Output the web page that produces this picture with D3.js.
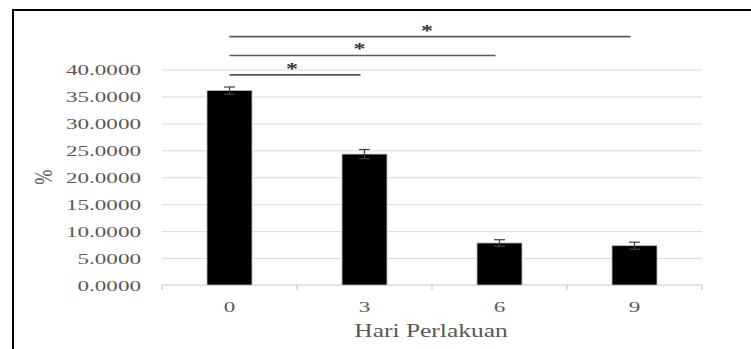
<!DOCTYPE html>
<html>
<head>
<meta charset="utf-8">
<script src="https://cdn.jsdelivr.net/npm/d3@7/dist/d3.min.js"></script>
<style>
  html, body { margin: 0; padding: 0; background: #fff; }
  svg { display: block; }
  text { font-family: "Liberation Serif", "Times New Roman", serif; }
</style>
</head>
<body>
<svg id="chart" width="751" height="349"></svg>
<script>
// Treatment days and mean percentage with error
const days = ["0", "3", "6", "9"];
const percent = [36.1, 24.3, 7.8, 7.3];
const errors = [0.65, 0.85, 0.6, 0.65];
const yTicks = [0, 5, 10, 15, 20, 25, 30, 35, 40];

// Significance brackets: from day, to day, height in % units
const sigFrom = ["0", "0", "0"];
const sigTo = ["3", "6", "9"];
const sigLevel = [39.0, 42.6, 46.1];
const sigMark = ["*", "*", "*"];

const svg = d3.select("#chart");
const W = 751, H = 349;
const plot = { left: 162, right: 702, top: 69.5, bottom: 285 };
const stretch = 1.5;       // horizontal stretch of tick lettering
const titleStretch = 1.4;  // horizontal stretch of axis titles

// Outer frame
svg.append("rect")
  .attr("x", 13).attr("y", 10)
  .attr("width", W + 20).attr("height", H + 20)
  .attr("fill", "none").attr("stroke", "#000").attr("stroke-width", 2);

const x = d3.scaleBand().domain(days).range([plot.left, plot.right]).padding(0);
const y = d3.scaleLinear().domain([0, 40]).range([plot.bottom, plot.top]);

// Y axis with gridlines
const yAxis = d3.axisLeft(y)
  .tickValues(yTicks)
  .tickFormat(d3.format(".4f"))
  .tickSize(-(plot.right - plot.left))
  .tickPadding(0);

const gy = svg.append("g")
  .attr("transform", `translate(${plot.left},0)`)
  .call(yAxis);
gy.select(".domain").remove();
gy.selectAll(".tick line")
  .attr("stroke", d => d === 0 ? "none" : "#d9d9d9")
  .attr("stroke-width", 1);
gy.selectAll(".tick text")
  .attr("x", null).attr("dy", null)
  .attr("fill", "#595959")
  .attr("font-size", 15.4)
  .attr("text-anchor", "end")
  .attr("dominant-baseline", "central")
  .attr("transform", `translate(-21,0) scale(${stretch},1)`);

// X axis: baseline with ticks at category boundaries
const gx = svg.append("g").attr("transform", `translate(0,${plot.bottom})`);
gx.append("line")
  .attr("x1", plot.left).attr("x2", plot.right)
  .attr("stroke", "#c8c8c8").attr("stroke-width", 1.2);
const bounds = days.map(d => x(d)).concat([x(days[days.length - 1]) + x.bandwidth()]);
gx.selectAll("line.tk").data(bounds).join("line")
  .attr("class", "tk")
  .attr("x1", d => d).attr("x2", d => d)
  .attr("y1", 0).attr("y2", 5)
  .attr("stroke", "#c8c8c8").attr("stroke-width", 1.2);
gx.selectAll("text.lbl").data(days).join("text")
  .attr("class", "lbl")
  .attr("transform", d => `translate(${x(d) + x.bandwidth() / 2},26.5) scale(${stretch},1)`)
  .attr("text-anchor", "middle")
  .attr("fill", "#595959")
  .attr("font-size", 15.4)
  .text(d => d);

// Bars
const barW = x.bandwidth() / 3;
const cx = d => x(d) + x.bandwidth() / 2;
svg.selectAll("rect.bar").data(days).join("rect")
  .attr("class", "bar")
  .attr("x", d => cx(d) - barW / 2)
  .attr("width", barW)
  .attr("y", (d, i) => y(percent[i]))
  .attr("height", (d, i) => y(0) - y(percent[i]))
  .attr("fill", "#000")
  .attr("stroke", "#bdbdbd").attr("stroke-width", 0.8);

// Error bars
const capW = 11;
const eb = svg.selectAll("g.err").data(days).join("g").attr("class", "err");
eb.append("line")
  .attr("x1", d => cx(d)).attr("x2", d => cx(d))
  .attr("y1", (d, i) => y(percent[i] + errors[i]))
  .attr("y2", (d, i) => y(percent[i] - errors[i]))
  .attr("stroke", "#404040").attr("stroke-width", 1.2);
eb.append("line")
  .attr("x1", d => cx(d) - capW / 2).attr("x2", d => cx(d) + capW / 2)
  .attr("y1", (d, i) => y(percent[i] + errors[i]))
  .attr("y2", (d, i) => y(percent[i] + errors[i]))
  .attr("stroke", "#404040").attr("stroke-width", 1.2);
eb.append("line")
  .attr("x1", d => cx(d) - capW / 2).attr("x2", d => cx(d) + capW / 2)
  .attr("y1", (d, i) => y(percent[i] - errors[i]))
  .attr("y2", (d, i) => y(percent[i] - errors[i]))
  .attr("stroke", "#404040").attr("stroke-width", 1.2);

// Significance brackets
const sig = sigFrom.map((f, i) => ({ from: f, to: sigTo[i], level: sigLevel[i], mark: sigMark[i] }));
const gs = svg.selectAll("g.sig").data(sig).join("g").attr("class", "sig");
gs.append("line")
  .attr("x1", d => cx(d.from)).attr("x2", d => cx(d.to) - 4)
  .attr("y1", d => y(d.level)).attr("y2", d => y(d.level))
  .attr("stroke", "#5a5a5a").attr("stroke-width", 1.6);
gs.append("text")
  .attr("transform", d => `translate(${(cx(d.from) + cx(d.to)) / 2 - 5},${y(d.level) - 1}) scale(${stretch},1)`)
  .attr("text-anchor", "middle")
  .attr("font-size", 16)
  .attr("font-weight", "bold")
  .attr("fill", "#333")
  .text(d => d.mark);

// Axis titles
svg.append("text")
  .attr("transform", `translate(${(plot.left + plot.right) / 2 - 1},337) scale(${titleStretch},1)`)
  .attr("text-anchor", "middle")
  .attr("fill", "#595959")
  .attr("font-size", 18.2)
  .text("Hari Perlakuan");

svg.append("text")
  .attr("transform", `translate(52,${(plot.top + plot.bottom) / 2}) scale(${titleStretch},1) rotate(-90)`)
  .attr("text-anchor", "middle")
  .attr("fill", "#595959")
  .attr("font-size", 18.2)
  .text("%");
</script>
</body>
</html>
